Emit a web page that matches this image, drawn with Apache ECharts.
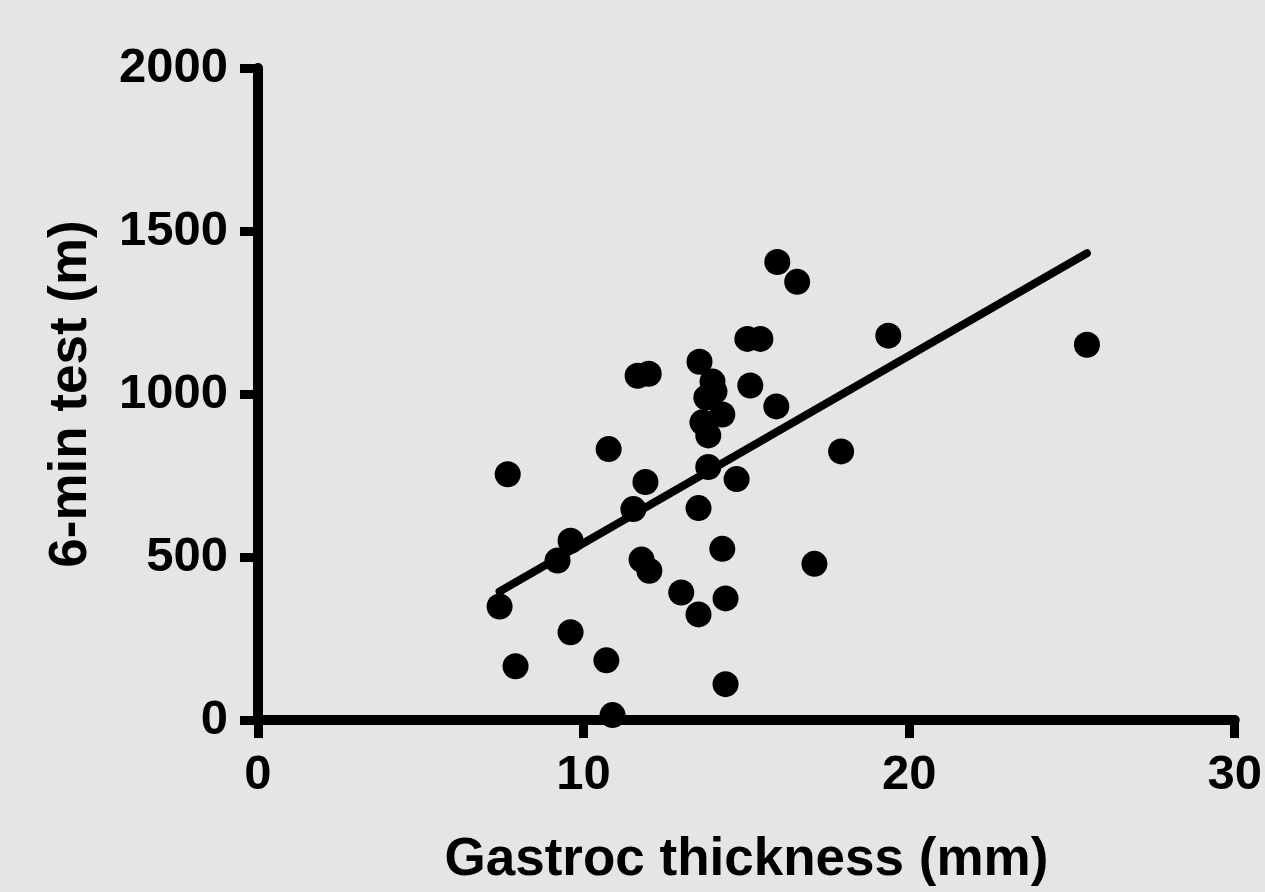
<!DOCTYPE html>
<html>
<head>
<meta charset="utf-8">
<title>Gastroc thickness vs 6-min test</title>
<script src="https://cdn.jsdelivr.net/npm/echarts@6/dist/echarts.min.js"></script>
<style>
  html, body { margin: 0; padding: 0; background: #e5e5e5; }
  #chart { width: 1265px; height: 892px; }
</style>
</head>
<body>
<div id="chart"></div>
<script>
// gastroc thickness (mm) per subject
const thickness = [7.42, 7.67, 7.91, 9.2, 9.6, 9.6, 10.7, 10.77, 10.89, 11.53,
  11.66, 12.0, 11.78, 12.02, 11.9, 13.0, 13.53, 13.53, 13.56, 13.65,
  13.77, 13.96, 14.02, 13.83, 13.83, 14.26, 14.26, 14.36, 14.36, 14.7,
  15.03, 15.43, 15.12, 15.92, 15.95, 16.56, 17.09, 17.91, 19.36, 25.46]
// 6-min walk distance (m), same order
const walk = [348, 754, 165, 489, 550, 269, 183, 831, 15, 647,
  1056, 1062, 492, 458, 730, 391, 324, 650, 1099, 913,
  989, 1038, 1008, 873, 776, 525, 937, 373, 110, 739,
  1169, 1169, 1026, 962, 1405, 1344, 479, 824, 1179, 1151]
// regression line end points
const fitX = [7.42, 25.46]
const fitY = [394, 1432]

const xTicks = [0, 10, 20, 30]
const yTicks = [0, 500, 1000, 1500, 2000]

const font = '"Liberation Sans", Arial, Helvetica, sans-serif'

const myChart = echarts.init(document.getElementById('chart'))

const points = thickness.map((x, i) => [x, walk[i]])
const fit = fitX.map((x, i) => [x, fitY[i]])

// 千位不加逗号
const plain = v => String(v)

myChart.setOption({
  backgroundColor: '#e5e5e5',
  animation: false,
  grid: { left: 258, right: 29, top: 68, bottom: 169 },
  xAxis: {
    type: 'value',
    min: xTicks[0],
    max: xTicks[xTicks.length - 1],
    interval: 10,
    name: 'Gastroc thickness (mm)',
    nameLocation: 'middle',
    nameGap: 114,
    nameTextStyle: { color: '#000', fontSize: 53, fontWeight: 'bold', fontFamily: font },
    axisLine: { show: true, onZero: false, lineStyle: { color: '#000', width: 10 } },
    axisTick: { show: true, length: 18, lineStyle: { color: '#000', width: 9 } },
    axisLabel: { color: '#000', fontSize: 49, fontWeight: 'bold', fontFamily: font, margin: 31, formatter: plain },
    splitLine: { show: false }
  },
  yAxis: {
    type: 'value',
    min: yTicks[0],
    max: yTicks[yTicks.length - 1],
    interval: 500,
    name: '6-min test (m)',
    nameLocation: 'middle',
    nameGap: 160,
    nameTextStyle: { color: '#000', fontSize: 53, fontWeight: 'bold', fontFamily: font },
    axisLine: { show: true, onZero: false, lineStyle: { color: '#000', width: 10 } },
    axisTick: { show: true, length: 18, lineStyle: { color: '#000', width: 9 } },
    axisLabel: { color: '#000', fontSize: 49, fontWeight: 'bold', fontFamily: font, margin: 30, formatter: plain },
    splitLine: { show: false }
  },
  series: [
    {
      type: 'line',
      data: fit,
      symbol: 'none',
      lineStyle: { color: '#000', width: 8, cap: 'round' },
      z: 2
    },
    {
      type: 'scatter',
      data: points,
      symbol: 'circle',
      symbolSize: 26,
      itemStyle: { color: '#000', opacity: 1 },
      z: 3
    }
  ]
})
</script>
</body>
</html>
